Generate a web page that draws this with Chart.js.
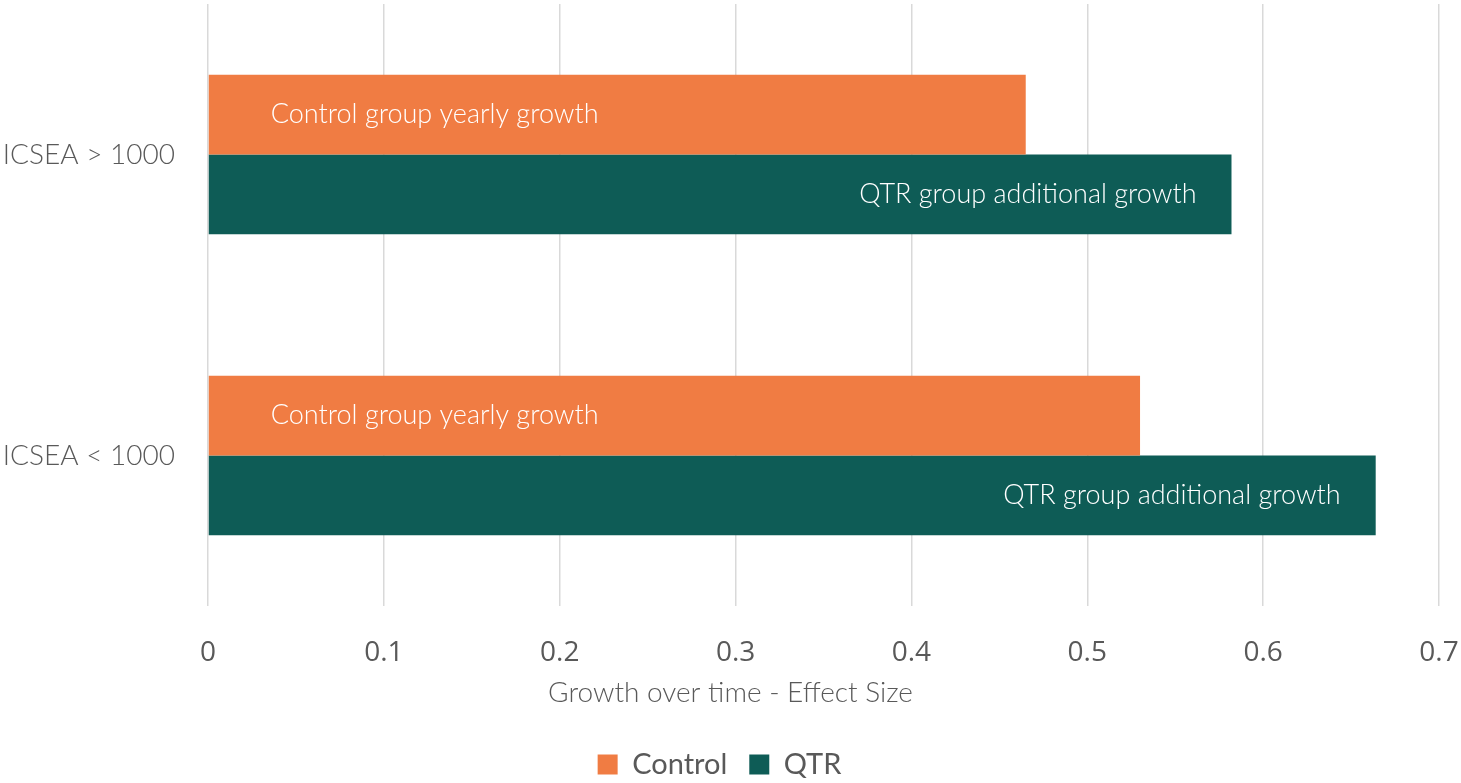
<!DOCTYPE html>
<html>
<head>
<meta charset="utf-8">
<script src="https://cdn.jsdelivr.net/npm/chart.js@4/dist/chart.umd.min.js"></script>
<style>
  html, body { margin: 0; padding: 0; background: #fff; }
  #wrap { width: 1461px; height: 783px; }
</style>
</head>
<body>
<div id="wrap"><canvas id="growth-chart"></canvas></div>
<script>
const categories = ["ICSEA > 1000", "ICSEA < 1000"];
const controlValues = [0.465, 0.530];
const qtrValues = [0.582, 0.664];
const barLabels = ["Control group yearly growth", "QTR group additional growth"];
const axisTitle = "Growth over time - Effect Size";

const textColor = "#595959";
const labelFont = "Lato";

// white captions inside each bar: control left-aligned, QTR right-aligned
const barCaptions = {
    id: "barCaptions",
    afterDatasetsDraw(chart) {
        const ctx = chart.ctx;
        ctx.save();
        ctx.fillStyle = "#ffffff";
        ctx.font = "300 27px " + labelFont;
        ctx.textBaseline = "middle";
        chart.data.datasets.forEach((ds, i) => {
            const meta = chart.getDatasetMeta(i);
            meta.data.forEach(bar => {
                if (i === 0) {
                    ctx.textAlign = "left";
                    ctx.fillText(barLabels[0], bar.base + 62, bar.y);
                } else {
                    ctx.textAlign = "right";
                    ctx.fillText(barLabels[1], bar.x - 35, bar.y);
                }
            });
        });
        ctx.restore();
    }
};

// axis title centred on the whole canvas rather than on the plot area
const centredTitle = {
    id: "centredTitle",
    afterDraw(chart) {
        const ctx = chart.ctx;
        ctx.save();
        ctx.fillStyle = textColor;
        ctx.font = "300 28px " + labelFont;
        ctx.textAlign = "center";
        ctx.textBaseline = "middle";
        ctx.fillText(axisTitle, chart.width / 2, 693);
        ctx.restore();
    }
};

const createGrowthChart = () => {
    const ctx = document.getElementById("growth-chart").getContext("2d");
    const data = {
        labels: categories,
        datasets: [
            {
                label: "Control",
                data: controlValues,
                backgroundColor: "#f07c43"
            },
            {
                label: "QTR",
                data: qtrValues,
                backgroundColor: "#0e5c56"
            }
        ]
    };
    new Chart(ctx, {
        type: "bar",
        data: data,
        plugins: [barCaptions, centredTitle],
        options: {
            indexAxis: "y",
            responsive: true,
            maintainAspectRatio: false,
            animation: false,
            datasets: {
                bar: {
                    barPercentage: 1,
                    categoryPercentage: 0.53
                }
            },
            layout: {
                padding: { top: 4, right: 22, left: 0, bottom: -6 }
            },
            plugins: {
                tooltip: { enabled: false },
                legend: {
                    position: "bottom",
                    labels: {
                        boxWidth: 20,
                        boxHeight: 20,
                        padding: 22,
                        color: textColor,
                        font: { family: labelFont, size: 29 }
                    }
                }
            },
            scales: {
                x: {
                    min: 0,
                    max: 0.7,
                    afterFit: scale => {
                        scale.height = 122;
                        scale.paddingLeft = 0;
                        scale.paddingRight = 0;
                    },
                    ticks: {
                        stepSize: 0.1,
                        padding: 30,
                        maxRotation: 0,
                        color: textColor,
                        font: { family: "Open Sans", size: 28 }
                    },
                    grid: {
                        color: "#d9d9d9",
                        lineWidth: 1.5,
                        drawTicks: false
                    },
                    border: { display: false }
                },
                y: {
                    afterFit: scale => {
                        scale.width = 208;
                        scale.paddingTop = 0;
                        scale.paddingBottom = 0;
                    },
                    ticks: {
                        padding: 25,
                        color: textColor,
                        font: { family: labelFont, size: 28, weight: 300 }
                    },
                    grid: { display: false },
                    border: { display: false }
                }
            }
        }
    });
};

createGrowthChart();
</script>
</body>
</html>
